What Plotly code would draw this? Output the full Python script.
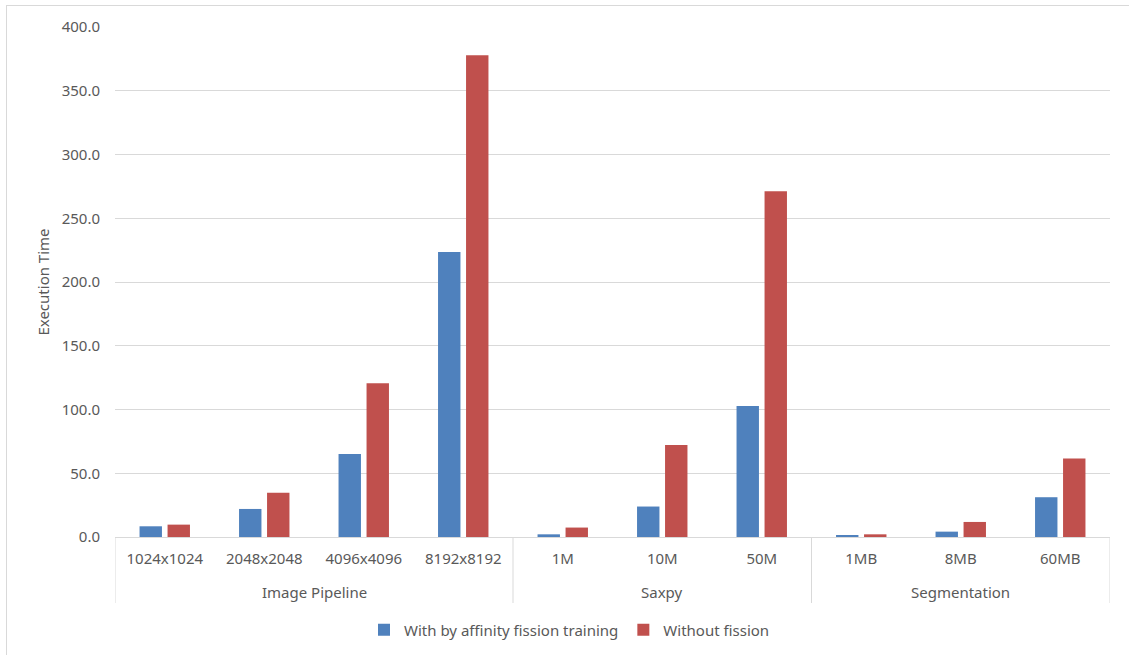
import plotly.graph_objects as go

# Benchmark groups and problem sizes
groups = ["Image Pipeline"] * 4 + ["Saxpy"] * 3 + ["Segmentation"] * 3
sizes = ["1024x1024", "2048x2048", "4096x4096", "8192x8192",
         "1M", "10M", "50M",
         "1MB", "8MB", "60MB"]

# Execution times
with_fission = [8.4, 22.0, 65.1, 223.5, 2.1, 23.9, 102.8, 1.3, 4.2, 31.2]
without_fission = [9.7, 34.8, 120.6, 377.9, 7.4, 72.2, 271.1, 2.1, 11.8, 61.5]

series_names = ["With by affinity fission training", "Without fission"]
series_colors = ["#4F81BD", "#C0504D"]

y_ticks = [0, 50, 100, 150, 200, 250, 300, 350, 400]

FONT = "Noto Sans"
TEXT = "#595959"
GRID = "#D9D9D9"

L, R, T, B = 115, 19, 27, 118
W, H = 1129, 655
PW, PH = W - L - R, H - T - B


def px_to_paper_y(py):
    return (H - B - py) / PH


def px_to_paper_x(px):
    return (px - L) / PW


fig = go.Figure()
for name, vals, color in zip(series_names, [with_fission, without_fission], series_colors):
    fig.add_trace(go.Bar(
        x=sizes,
        y=vals,
        name=name,
        marker=dict(color=color, line=dict(width=0)),
    ))

# Outer-level group labels and the dividers between groups
shapes = []
annotations = []
bounds = [-0.5]
start = 0
for i in range(1, len(groups) + 1):
    if i == len(groups) or groups[i] != groups[start]:
        bounds.append(i - 0.5)
        annotations.append(dict(
            x=(start + i - 1) / 2, xref="x",
            y=px_to_paper_y(592), yref="paper",
            text=groups[start], showarrow=False,
            xanchor="center", yanchor="middle",
            font=dict(family=FONT, size=15, color=TEXT),
        ))
        start = i
for b in bounds:
    shapes.append(dict(
        type="line", xref="x", yref="paper",
        x0=b, x1=b, y0=0, y1=px_to_paper_y(603),
        line=dict(color=GRID, width=1),
    ))

# Chart-area frame (top and left edges)
shapes.append(dict(
    type="line", xref="paper", yref="paper",
    x0=px_to_paper_x(6), x1=px_to_paper_x(1135),
    y0=px_to_paper_y(5.5), y1=px_to_paper_y(5.5),
    line=dict(color=GRID, width=1),
))
shapes.append(dict(
    type="line", xref="paper", yref="paper",
    x0=px_to_paper_x(6.5), x1=px_to_paper_x(6.5),
    y0=px_to_paper_y(5), y1=px_to_paper_y(660),
    line=dict(color=GRID, width=1),
))

fig.update_layout(
    width=W,
    height=H,
    margin=dict(l=L, r=R, t=T, b=B),
    paper_bgcolor="white",
    plot_bgcolor="white",
    barmode="group",
    bargap=0.437,
    bargroupgap=0.2,
    font=dict(family=FONT, size=15, color=TEXT),
    showlegend=True,
    legend=dict(
        orientation="h",
        x=0.5 - 43 / PW, xanchor="center",
        yref="container", y=0.038, yanchor="middle",
        font=dict(family=FONT, size=15, color=TEXT),
        itemwidth=30,
        traceorder="normal",
    ),
    xaxis=dict(
        type="category",
        range=[-0.5, len(sizes) - 0.5],
        showline=True,
        linecolor=GRID,
        linewidth=1,
        ticks="",
        ticklabelstandoff=8,
        tickfont=dict(family=FONT, size=15, color=TEXT),
        showgrid=False,
        zeroline=False,
    ),
    yaxis=dict(
        range=[0, 400],
        tickvals=y_ticks,
        tickformat=".1f",
        showgrid=True,
        gridcolor=GRID,
        gridwidth=1,
        zeroline=False,
        showline=False,
        ticks="",
        ticklabelstandoff=14,
        tickfont=dict(family=FONT, size=15, color=TEXT),
        title=dict(text="Execution Time", font=dict(family=FONT, size=15, color=TEXT), standoff=8),
    ),
    shapes=shapes,
    annotations=annotations,
)

fig.write_html("out.html")
